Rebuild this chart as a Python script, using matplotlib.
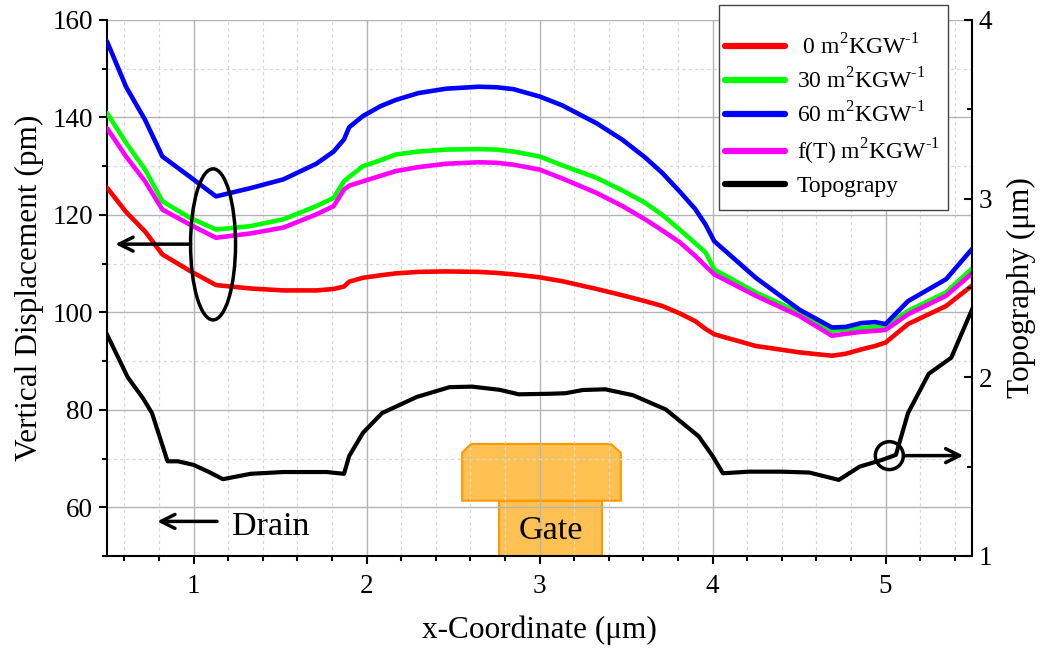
import matplotlib
matplotlib.use("Agg")
import matplotlib.pyplot as plt
from matplotlib.ticker import MultipleLocator
from matplotlib.patches import Ellipse, Polygon, Rectangle

plt.rcParams['font.family'] = ['Liberation Serif', 'DejaVu Serif']
plt.rcParams['mathtext.fontset'] = 'custom'
plt.rcParams['mathtext.rm'] = 'Liberation Serif'

# x positions (um) shared by the displacement curves
x_disp = [0.50, 0.61, 0.72, 0.82, 0.98, 1.13, 1.33, 1.52, 1.71, 1.81, 1.87, 1.90,
          1.98, 2.08, 2.17, 2.30, 2.46, 2.65, 2.75, 2.85, 3.00, 3.13, 3.33, 3.48,
          3.61, 3.71, 3.81, 3.90, 3.96, 4.01, 4.25, 4.50, 4.69, 4.77, 4.86, 4.94,
          5.00, 5.13, 5.35, 5.50]

# vertical displacement (pm)
disp_0 = [125.6, 120.6, 116.6, 111.9, 108.5, 105.6, 104.9, 104.5, 104.5, 104.8, 105.3, 106.3,
          107.1, 107.6, 108.0, 108.3, 108.4, 108.3, 108.1, 107.8, 107.2, 106.4, 104.8, 103.5,
          102.3, 101.3, 99.8, 98.2, 96.6, 95.5, 93.1, 91.8, 91.1, 91.5, 92.4, 93.1,
          93.8, 97.6, 101.3, 105.5]
disp_30 = [140.9, 134.8, 129.3, 122.8, 119.4, 117.0, 117.7, 119.1, 121.8, 123.5, 126.9, 127.8,
           130.0, 131.2, 132.4, 133.0, 133.4, 133.5, 133.4, 133.0, 132.0, 130.2, 127.6, 125.0,
           122.5, 120.0, 117.0, 114.2, 112.3, 108.8, 104.1, 100.0, 96.2, 96.5, 96.8, 97.0,
           97.2, 100.3, 104.1, 109.0]
disp_60 = [155.6, 146.3, 139.5, 132.0, 127.8, 123.8, 125.5, 127.3, 130.5, 133.0, 135.5, 138.0,
           140.3, 142.3, 143.6, 145.0, 145.9, 146.3, 146.2, 145.8, 144.3, 142.5, 138.8, 135.4,
           131.8, 128.6, 124.8, 121.2, 118.0, 114.6, 107.1, 100.6, 96.9, 97.0, 97.8, 98.0,
           97.6, 102.3, 106.8, 113.0]
disp_fT = [137.8, 132.0, 126.9, 121.1, 118.0, 115.3, 116.2, 117.4, 120.1, 121.8, 125.2, 126.0,
           126.9, 128.0, 129.0, 129.8, 130.5, 130.8, 130.7, 130.3, 129.3, 127.5, 124.5, 121.8,
           119.1, 116.8, 114.4, 111.6, 109.5, 107.8, 103.4, 99.3, 95.2, 95.6, 96.0, 96.2,
           96.4, 99.6, 103.4, 108.0]

# topography profile (um)
x_topo = [0.50, 0.62, 0.71, 0.76, 0.85, 0.91, 1.00, 1.09, 1.17, 1.33, 1.52, 1.77, 1.87,
          1.90, 1.98, 2.09, 2.29, 2.48, 2.61, 2.77, 2.88, 3.06, 3.15, 3.25, 3.38, 3.54,
          3.73, 3.92, 4.00, 4.06, 4.21, 4.40, 4.56, 4.73, 4.85, 4.98, 5.06, 5.13, 5.25,
          5.38, 5.50]
topo = [2.24, 2.00, 1.88, 1.80, 1.53, 1.53, 1.51, 1.47, 1.43, 1.46, 1.47, 1.47, 1.46,
        1.56, 1.69, 1.80, 1.89, 1.945, 1.948, 1.93, 1.905, 1.908, 1.911, 1.929, 1.933, 1.90,
        1.82, 1.67, 1.56, 1.463, 1.472, 1.472, 1.467, 1.426, 1.50, 1.538, 1.566, 1.80, 2.02,
        2.11, 2.38]

unit = 'm$^{\\mathregular{2}}$KGW$^{\\text{-1}}$'
labels = [' 0 ' + unit, '30 ' + unit, '60 ' + unit, 'f(T) ' + unit, 'Topograpy']
colors = ['#ff0000', '#00ff00', '#0000ff', '#ff00ff', '#000000']

fig = plt.figure(figsize=(10.47, 6.49), dpi=100)
ax = fig.add_axes([0.1022, 0.1433, 0.8262, 0.8259])
ax2 = ax.twinx()

# gate electrode sketch: translucent fill plus solid outline
gate_cap = [(2.553, 61.35), (2.553, 71.2), (2.604, 73.0), (3.412, 73.0),
            (3.470, 71.2), (3.470, 61.35)]
gate_stem = ((2.768, 50), 0.596, 11.35)
ax.add_patch(Polygon(gate_cap, closed=True, facecolor='#ffa90f', alpha=0.72,
                     edgecolor='none', zorder=1))
ax.add_patch(Rectangle(*gate_stem, facecolor='#ffa90f', alpha=0.72,
                       edgecolor='none', zorder=1))
ax.add_patch(Polygon(gate_cap, closed=True, fill=False, edgecolor='#ff9900',
                     lw=1.5, zorder=1.1))
ax.add_patch(Rectangle(*gate_stem, fill=False, edgecolor='#ff9900', lw=1.5, zorder=1.1))
ax.text(3.066, 53.4, 'Gate', fontsize=24.5, ha='center', va='baseline', zorder=3)

handles = []
for ys, c, lab in zip([disp_0, disp_30, disp_60, disp_fT], colors[:4], labels[:4]):
    h, = ax.plot(x_disp, ys, color=c, lw=3.3, label=lab, zorder=3,
                 solid_joinstyle='round', solid_capstyle='round')
    handles.append(h)
h, = ax2.plot(x_topo, topo, color='k', lw=3.0, label=labels[4],
              solid_joinstyle='round')
handles.append(h)

# annotations: ellipse pointing to left axis, circle pointing to right axis
arrow_kw = dict(arrowstyle='->', lw=2.5, color='k', mutation_scale=25,
                shrinkA=0, shrinkB=0)
ax.add_patch(Ellipse((1.113, 113.95), 0.26, 31.0, fill=False, lw=2.5, ec='k', zorder=4))
ax.annotate('', xy=(0.548, 114.0), xytext=(0.983, 114.0), arrowprops=arrow_kw, zorder=4)
ax.add_patch(Ellipse((5.022, 70.6), 0.162, 5.73, fill=False, lw=2.5, ec='k', zorder=4))
ax.annotate('', xy=(5.45, 70.6), xytext=(5.104, 70.6), arrowprops=arrow_kw, zorder=4)
ax.annotate('', xy=(0.79, 57.1), xytext=(1.136, 57.1), arrowprops=arrow_kw, zorder=4)
ax.text(1.22, 54.4, 'Drain', fontsize=24.5, ha='left', va='baseline')

# axes limits and ticks
ax.set_xlim(0.5, 5.5)
ax.set_ylim(50, 160)
ax2.set_ylim(1, 4)
ax.xaxis.set_major_locator(MultipleLocator(1))
ax.xaxis.set_minor_locator(MultipleLocator(0.2))
ax.yaxis.set_major_locator(MultipleLocator(20))
ax.yaxis.set_minor_locator(MultipleLocator(10))
ax2.yaxis.set_major_locator(MultipleLocator(1))
ax2.yaxis.set_minor_locator(MultipleLocator(0.5))

ax.grid(which='major', color='#b4b4b4', lw=1.0)
ax.grid(which='minor', color='#d9d9d9', lw=0.9, ls=(0, (2.5, 2.5)))

ax.tick_params(axis='both', which='major', direction='out', length=6, width=1.5,
               labelsize=19.5, pad=4)
ax.tick_params(axis='both', which='minor', direction='out', length=3.5, width=1.5)
ax.tick_params(axis='x', which='major', pad=7)
ax2.tick_params(axis='y', which='major', direction='in', length=6, width=1.5,
                labelsize=19.5, pad=5)
ax2.tick_params(axis='y', which='minor', direction='in', length=3.5, width=1.5)

for s in ('top', 'right'):
    ax.spines[s].set_visible(False)
for s in ('top', 'left', 'bottom'):
    ax2.spines[s].set_visible(False)
for s in ('left', 'bottom'):
    ax.spines[s].set_linewidth(1.5)
ax2.spines['right'].set_linewidth(1.5)

ax.set_xlabel('x-Coordinate (\u03bcm)', fontsize=22.5, labelpad=12)
ax.set_ylabel('Vertical Displacement (pm)', fontsize=22.5)
ax2.set_ylabel('Topography (\u03bcm)', fontsize=22.5)
ax.yaxis.set_label_coords(-0.073, 0.5)
ax2.yaxis.set_label_coords(1.04, 0.5)

# legend box (white, grey border) with the entries laid out inside it
ax2.add_patch(Rectangle((0.6867, 0.6764), 0.2187, 0.3159, transform=fig.transFigure,
                        facecolor='white', edgecolor='#444444', lw=1.0,
                        clip_on=False, zorder=4.5))
leg = ax2.legend(handles=handles, labels=labels, loc='upper left',
                 bbox_to_anchor=(0.6867, 0.957), bbox_transform=fig.transFigure,
                 fontsize=17, frameon=False, handlelength=2.55, handletextpad=0.5,
                 labelspacing=0.38, borderpad=0.25, borderaxespad=0)
leg.set_zorder(5)
for lh in leg.get_lines():
    lh.set_linewidth(4.5)
    lh.set_solid_capstyle('round')

fig.savefig('out.png', dpi=100)
